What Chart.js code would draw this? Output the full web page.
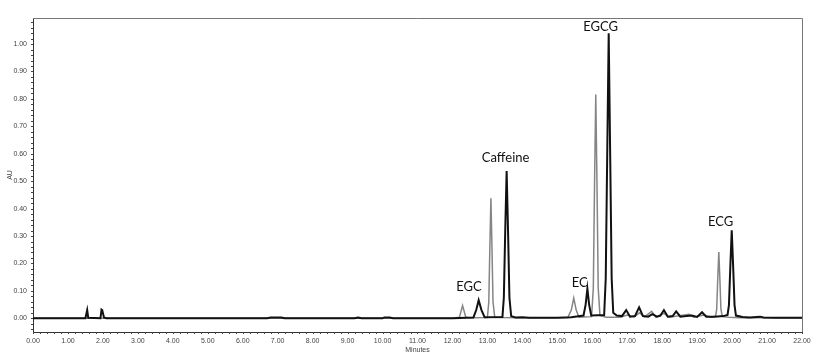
<!DOCTYPE html>
<html>
<head>
<meta charset="utf-8">
<script src="https://cdn.jsdelivr.net/npm/chart.js@4/dist/chart.umd.min.js"></script>
<style>
	html, body { margin: 0; padding: 0; background: #ffffff; }
	#wrap { position: relative; width: 827px; height: 355px; }
</style>
</head>
<body>
<div id="wrap"><canvas id="chromChart"></canvas></div>
<script>
// Chromatogram data (minutes, AU)
const blackTime = [0.00, 1.50, 1.55, 1.58, 1.93, 1.96, 1.98, 2.03, 2.10, 6.70, 6.80, 7.10, 7.20, 9.20, 9.30, 9.40, 10.00, 10.05, 10.20, 10.30,
	12.00, 12.60, 12.68, 12.75, 12.83, 12.92, 13.43, 13.47, 13.51, 13.55, 13.59, 13.63, 13.68, 13.80, 14.00, 14.20, 15.00, 15.40,
	15.75, 15.81, 15.86, 15.91, 15.97, 16.34, 16.385, 16.43, 16.47, 16.51, 16.555, 16.60, 16.70, 16.85, 16.97, 17.08, 17.22, 17.34,
	17.45, 17.60, 17.72, 17.85, 17.95, 18.05, 18.16, 18.30, 18.40, 18.52, 18.70, 18.85, 19.00, 19.14, 19.26, 19.50,
	19.75, 19.87, 19.91, 19.95, 19.99, 20.03, 20.07, 20.11, 20.30, 20.50, 20.80, 20.90, 21.20, 22.00];
const blackAU = [0.000, 0.000, 0.030, 0.002, 0.000, 0.032, 0.030, 0.003, 0.000, 0.000, 0.003, 0.003, 0.000, 0.000, 0.003, 0.000, 0.000, 0.003, 0.003, 0.000,
	0.000, 0.003, 0.030, 0.066, 0.030, 0.004, 0.005, 0.075, 0.320, 0.537, 0.320, 0.075, 0.008, 0.003, 0.004, 0.002, 0.002, 0.004,
	0.010, 0.050, 0.108, 0.050, 0.010, 0.012, 0.145, 0.620, 1.039, 0.620, 0.145, 0.020, 0.010, 0.008, 0.030, 0.006, 0.008, 0.040,
	0.008, 0.006, 0.015, 0.006, 0.010, 0.030, 0.006, 0.008, 0.025, 0.006, 0.008, 0.010, 0.005, 0.022, 0.006, 0.006,
	0.008, 0.012, 0.048, 0.190, 0.321, 0.190, 0.048, 0.010, 0.005, 0.003, 0.006, 0.003, 0.002, 0.002];

const grayTime = [0.00, 12.00, 12.20, 12.29, 12.38, 12.50, 13.00, 13.04, 13.07, 13.10, 13.13, 13.16, 13.21, 13.40, 14.00, 15.30, 15.40, 15.47,
	15.54, 15.62, 15.98, 16.03, 16.065, 16.10, 16.135, 16.17, 16.22, 16.40, 16.80, 17.00, 17.20, 17.35, 17.50, 17.70, 17.82, 18.05,
	18.20, 18.77, 18.90, 19.20, 19.40, 19.53, 19.56, 19.59, 19.62, 19.65, 19.68, 19.72, 19.90, 20.20, 22.00];
const grayAU = [0.000, 0.000, 0.004, 0.046, 0.004, 0.002, 0.003, 0.060, 0.260, 0.438, 0.260, 0.060, 0.004, 0.003, 0.002, 0.003, 0.030, 0.074,
	0.030, 0.004, 0.006, 0.110, 0.490, 0.816, 0.490, 0.110, 0.010, 0.004, 0.004, 0.012, 0.005, 0.020, 0.005, 0.025, 0.004, 0.018,
	0.004, 0.015, 0.004, 0.012, 0.004, 0.008, 0.034, 0.145, 0.242, 0.145, 0.034, 0.006, 0.004, 0.002, 0.002];

// Peak names and where their labels sit (minutes, AU)
const peakNames = ["EGC", "Caffeine", "EC", "EGCG", "ECG"];
const peakLabelTime = [12.47, 13.52, 15.64, 16.24, 19.67];
const peakLabelAU = [0.113, 0.584, 0.131, 1.062, 0.350];

const xTicks = [0, 1, 2, 3, 4, 5, 6, 7, 8, 9, 10, 11, 12, 13, 14, 15, 16, 17, 18, 19, 20, 21, 22];
const yTicks = [0, 0.1, 0.2, 0.3, 0.4, 0.5, 0.6, 0.7, 0.8, 0.9, 1.0];

function toPoints(times, values) {
	return times.map((t, i) => ({ x: t, y: values[i] }));
}

// frame, minor ticks and peak names
const decorPlugin = {
	id: "decor",
	afterDraw(chart) {
		const { ctx, chartArea: a, scales } = chart;
		ctx.save();
		ctx.strokeStyle = "#777";
		ctx.lineWidth = 1;
		ctx.beginPath();
		ctx.moveTo(a.left, a.top + 0.5);
		ctx.lineTo(a.right + 0.5, a.top + 0.5);
		ctx.lineTo(a.right + 0.5, a.bottom);
		ctx.stroke();

		ctx.strokeStyle = "#444";
		ctx.beginPath();
		for (let v = 0; v <= 22.001; v += 0.2) {
			const px = Math.round(scales.x.getPixelForValue(v)) + 0.5;
			ctx.moveTo(px, a.bottom);
			ctx.lineTo(px, a.bottom + 2);
		}
		for (let v = -0.04; v <= 1.09; v += 0.02) {
			const py = Math.round(scales.y.getPixelForValue(v)) + 0.5;
			ctx.moveTo(a.left - 2, py);
			ctx.lineTo(a.left, py);
		}
		ctx.stroke();

		ctx.fillStyle = "#111";
		ctx.font = "13px Lato, 'Open Sans', sans-serif";
		ctx.textAlign = "center";
		ctx.textBaseline = "middle";
		peakNames.forEach((name, i) => {
			ctx.fillText(
				name,
				scales.x.getPixelForValue(peakLabelTime[i]),
				scales.y.getPixelForValue(peakLabelAU[i]),
			);
		});
		ctx.restore();
	},
};

const tickFont = { size: 7, family: "'Liberation Sans', Arial, sans-serif" };

new Chart(document.getElementById("chromChart"), {
	type: "scatter",
	data: {
		datasets: [
			{
				label: "black",
				data: toPoints(blackTime, blackAU),
				showLine: true,
				borderColor: "#111111",
				borderWidth: 2,
				pointRadius: 0,
				tension: 0,
				order: 0,
			},
			{
				label: "gray",
				data: toPoints(grayTime, grayAU),
				showLine: true,
				borderColor: "#858585",
				borderWidth: 1.5,
				pointRadius: 0,
				tension: 0,
				order: 1,
			},
		],
	},
	options: {
		responsive: true,
		maintainAspectRatio: false,
		animation: false,
		layout: { padding: { top: 18, right: 25, left: 0, bottom: 0 } },
		plugins: {
			legend: { display: false },
			tooltip: { enabled: false },
		},
		scales: {
			x: {
				type: "linear",
				min: 0,
				max: 22,
				afterBuildTicks: (scale) => {
					scale.ticks = xTicks.map((v) => ({ value: v }));
				},
				afterFit: (scale) => {
					scale.height = 23;
				},
				grid: { display: false, drawTicks: true, tickLength: 4 },
				border: { display: true, color: "#333", width: 1 },
				ticks: {
					font: tickFont,
					color: "#444",
					padding: 1,
					maxRotation: 0,
					autoSkip: false,
					callback: (v) => Number(v).toFixed(2),
				},
				title: {
					display: true,
					text: "Minutes",
					font: tickFont,
					color: "#444",
					padding: { top: 0, bottom: 1 },
				},
			},
			y: {
				type: "linear",
				min: -0.05,
				max: 1.095,
				afterBuildTicks: (scale) => {
					scale.ticks = yTicks.map((v) => ({ value: v }));
				},
				afterFit: (scale) => {
					scale.width = 33;
				},
				grid: { display: false, drawTicks: true, tickLength: 4 },
				border: { display: true, color: "#333", width: 1 },
				ticks: {
					font: tickFont,
					color: "#444",
					padding: 2,
					autoSkip: false,
					callback: (v) => Number(v).toFixed(2),
				},
				title: {
					display: true,
					text: "AU",
					font: tickFont,
					color: "#444",
					padding: { top: 6, bottom: 0 },
				},
			},
		},
	},
	plugins: [decorPlugin],
});
</script>
</body>
</html>
